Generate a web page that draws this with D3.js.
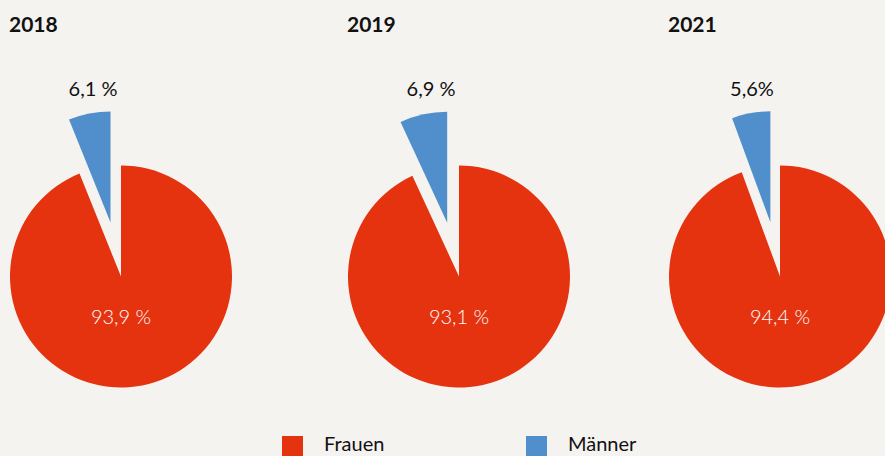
<!DOCTYPE html>
<html><head><meta charset="utf-8">
<script src="https://cdn.jsdelivr.net/npm/d3@7"></script>
<style>
html,body{margin:0;padding:0;background:#f5f3f0;overflow:hidden}
svg{display:block}
text{font-family:Lato,"Open Sans",sans-serif}
</style></head><body>
<svg id="c" width="885" height="456"></svg>
<script>
const years = ["2018", "2019", "2021"];
const frauen = [93.9, 93.1, 94.4];
const maenner = [6.1, 6.9, 5.6];
const frauenLabels = ["93,9 %", "93,1 %", "94,4 %"];
const maennerLabels = ["6,1 %", "6,9 %", "5,6%"];
const seriesNames = ["Frauen", "Männer"];
const colors = ["#e5330f", "#508fcc"];

const svg = d3.select("#c");
const W = 885, H = 456;
svg.append("rect").attr("width", W).attr("height", H).attr("fill", "#f5f3f0");

const R = 111;
const centersX = [121, 459, 780];
const cy = 276.5;
const explode = 55;

const pie = d3.pie().sort(null).value(d => d.v);
const arc = d3.arc().innerRadius(0).outerRadius(R);
const color = d3.scaleOrdinal().domain(seriesNames).range(colors);

years.forEach((y, i) => {
  const cx = centersX[i];
  svg.append("text").attr("x", cx - R - 1).attr("y", 32)
    .attr("font-size", 21).attr("font-weight", 700).attr("fill", "#111").text(y);
  const g = svg.append("g").attr("transform", `translate(${cx},${cy})`);
  const data = [{k: "Frauen", v: frauen[i]}, {k: "Männer", v: maenner[i]}];
  const arcs = pie(data);
  arcs.forEach(a => {
    let dx = 0, dy = 0;
    if (a.data.k === "Männer") {
      const mid = (a.startAngle + a.endAngle) / 2;
      dx = Math.sin(mid) * explode;
      dy = -Math.cos(mid) * explode;
    }
    g.append("path").attr("d", arc(a)).attr("fill", color(a.data.k))
      .attr("transform", `translate(${dx},${dy})`);
  });
  g.append("text").attr("x", 0).attr("y", 40).attr("dy", "0.35em")
    .attr("text-anchor", "middle").attr("font-size", 20).attr("font-weight", 300)
    .attr("fill", "#fff").text(frauenLabels[i]);
  svg.append("text").attr("x", cx - 28).attr("y", 96)
    .attr("text-anchor", "middle").attr("font-size", 20).attr("font-weight", 400)
    .attr("fill", "#111").text(maennerLabels[i]);
});

// legend
const legX = [282, 526];
seriesNames.forEach((n, i) => {
  svg.append("rect").attr("x", legX[i]).attr("y", 436).attr("width", 21).attr("height", 21)
    .attr("fill", color(n));
  svg.append("text").attr("x", legX[i] + 42).attr("y", 451)
    .attr("font-size", 20).attr("fill", "#111").text(n);
});
</script>
</body></html>
